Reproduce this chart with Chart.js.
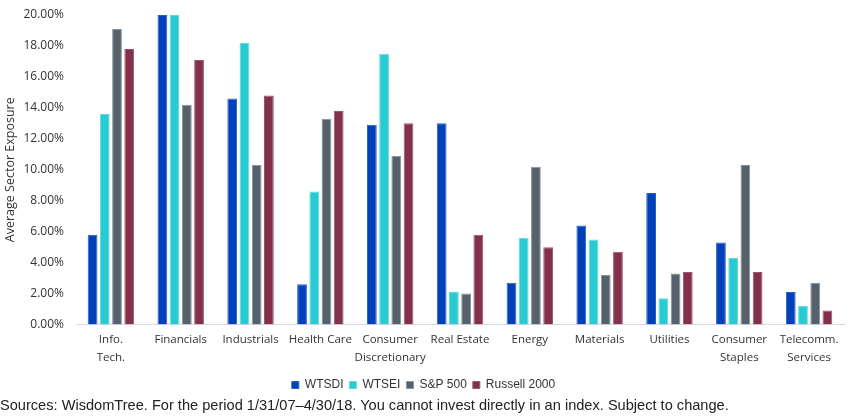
<!DOCTYPE html>
<html>
<head>
<meta charset="utf-8">
<script src="https://cdn.jsdelivr.net/npm/chart.js@4"></script>
<style>
  body { margin: 0; background: #fff; }
  #wrap { position: relative; width: 850px; height: 418px; }
  #source {
    position: absolute; left: 0; top: 397px;
    font-family: "Liberation Sans", Arial, sans-serif; font-size: 14.6px; color: #222;
    white-space: nowrap;
  }
</style>
</head>
<body>
<div id="wrap">
  <canvas id="chart" width="850" height="418"></canvas>
  <div id="source">Sources: WisdomTree. For the period 1/31/07–4/30/18. You cannot invest directly in an index. Subject to change.</div>
</div>
<script>
// Sector exposure data (%)
const sectors = [
  ['Info.', 'Tech.'], 'Financials', 'Industrials', 'Health Care',
  ['Consumer', 'Discretionary'], 'Real Estate', 'Energy', 'Materials',
  'Utilities', ['Consumer', 'Staples'], ['Telecomm.', 'Services']
];
const wtsdi = [5.8, 20.0, 14.6, 2.6, 12.9, 13.0, 2.7, 6.4, 8.5, 5.3, 2.1];
const wtsei = [13.6, 20.0, 18.2, 8.6, 17.5, 2.1, 5.6, 5.5, 1.7, 4.3, 1.2];
const sp500 = [19.1, 14.2, 10.3, 13.3, 10.9, 2.0, 10.2, 3.2, 3.3, 10.3, 2.7];
const russell2000 = [17.8, 17.1, 14.8, 13.8, 13.0, 5.8, 5.0, 4.7, 3.4, 3.4, 0.9];

const fontFamily = '"Open Sans", "Noto Sans", sans-serif';

function makeSet(label, data, color, border) {
  return {
    label: label,
    data: data,
    backgroundColor: color,
    borderColor: border,
    borderWidth: 1,
    barPercentage: 0.8,
    categoryPercentage: 0.7
  };
}

const ctx = document.getElementById('chart').getContext('2d');
new Chart(ctx, {
  type: 'bar',
  data: {
    labels: sectors,
    datasets: [
      makeSet('WTSDI', wtsdi, '#0041B9', '#2a5fc8'),
      makeSet('WTSEI', wtsei, '#29CBD3', '#5fdbe0'),
      makeSet('S&P 500', sp500, '#56626B', '#8a939a'),
      makeSet('Russell 2000', russell2000, '#83304B', '#9c5570')
    ]
  },
  options: {
    responsive: false,
    animation: false,
    layout: { padding: { top: 15, right: 6, bottom: 17, left: 3 } },
    scales: {
      y: {
        min: 0,
        max: 20,
        afterFit: scale => {
          scale.width = 73;
          scale.paddingTop = 0;
          scale.paddingBottom = 0;
        },
        ticks: {
          stepSize: 2,
          color: '#333',
          font: { family: fontFamily, size: 12 },
          padding: 12,
          callback: v => v.toFixed(2) + '%'
        },
        grid: { display: false, drawTicks: false },
        border: { display: false },
        title: {
          display: true,
          text: 'Average Sector Exposure',
          color: '#333',
          font: { family: fontFamily, size: 12.5 },
          padding: { top: 0, bottom: 0 }
        }
      },
      x: {
        ticks: {
          color: '#333',
          font: { family: fontFamily, size: 11.5, lineHeight: 1.5 },
          maxRotation: 0,
          autoSkip: false,
          padding: 7
        },
        grid: { display: false, drawTicks: false },
        border: { color: '#D9D9E6', width: 1 }
      }
    },
    plugins: {
      legend: {
        position: 'bottom',
        labels: {
          boxWidth: 7,
          boxHeight: 7,
          color: '#333',
          padding: 6,
          font: { family: '"Liberation Sans Narrow", "Liberation Sans", sans-serif', size: 12 }
        }
      },
      tooltip: { enabled: false }
    }
  }
});
</script>
</body>
</html>
